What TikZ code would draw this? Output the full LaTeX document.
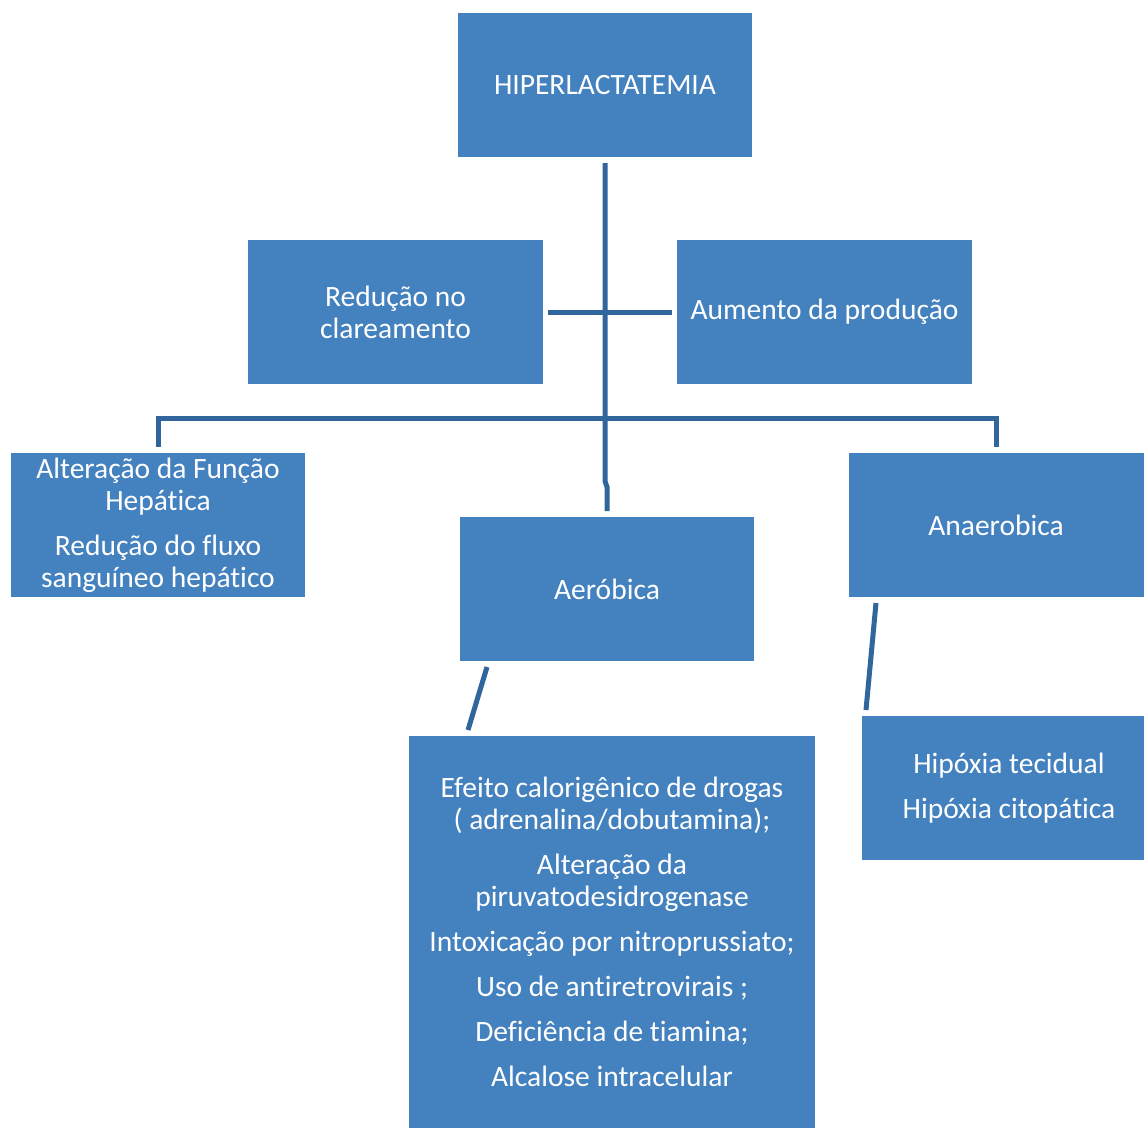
\documentclass[tikz,border=0pt]{standalone}
\usepackage{fontspec}
\setmainfont{Carlito}[Ligatures={NoCommon}]
\definecolor{boxblue}{HTML}{4481BF}
\definecolor{lineblue}{HTML}{30669B}
\begin{document}
\begin{tikzpicture}[x=1pt,y=-1pt,
  box/.style={fill=boxblue,draw=none,text=white,inner sep=0pt,align=center,
    font=\fontsize{29.5}{32}\selectfont},
  conn/.style={draw=lineblue,line width=5pt,line cap=butt,line join=miter}]
\useasboundingbox (0,0) rectangle (1144,1128);
\fill[white] (0,0) rectangle (1144,1128);
\newcommand{\bx}[7]{% name, x1,y1,x2,y2,text x,text
  \fill[boxblue] (#2,#3) rectangle (#4,#5);
  \node[box] (#1) at (#6,{(#3+#5)/2}) {#7};}
\bx{hip}{458}{13}{752}{157}{605}{HIPERLACTATEMIA}
\bx{red}{248}{240}{543}{384}{395.5}{Redução no\\clareamento}
\bx{aum}{677}{240}{972}{384}{824.5}{Aumento da produção}
\bx{alt}{11}{453}{305}{597}{158}{Alteração da Função\\Hepática\\[13pt]Redução do fluxo\\sanguíneo hepático}
\bx{aer}{460}{517}{754}{661}{607}{Aeróbica}
\bx{ana}{849}{453}{1144}{597}{996}{Anaerobica}
\bx{efe}{409}{736}{815}{1128}{612}{Efeito calorigênico de drogas\\( adrenalina/dobutamina);\\[13pt]Alteração da\\piruvatodesidrogenase\\[13pt]Intoxicação por nitroprussiato;\\[13pt]Uso de antiretrovirais ;\\[13pt]Deficiência de tiamina;\\[13pt]Alcalose intracelular}
\bx{hpx}{862}{716}{1144}{860}{1009}{Hipóxia tecidual\\[13pt]Hipóxia citopática}
% connector coordinates
\coordinate (vtop) at (605,163);
\coordinate (vjog) at (605,481);
\coordinate (vjog2) at (607,487);
\coordinate (vbot) at (607,511);
\coordinate (hl) at (548,312);
\coordinate (hr) at (672,312);
\coordinate (bl) at (158,447);
\coordinate (blc) at (158,418);
\coordinate (brc) at (996,418);
\coordinate (br) at (996,447);
\coordinate (a1) at (487,667);
\coordinate (a2) at (468,730);
\coordinate (n1) at (876,603);
\coordinate (n2) at (866,710);
\draw[conn] (vtop) -- (vjog) -- (vjog2) -- (vbot);
\draw[conn] (hl) -- (hr);
\draw[conn] (bl) -- (blc) -- (brc) -- (br);
\draw[conn] (a1) -- (a2);
\draw[conn] (n1) -- (n2);
\end{tikzpicture}
\end{document}
